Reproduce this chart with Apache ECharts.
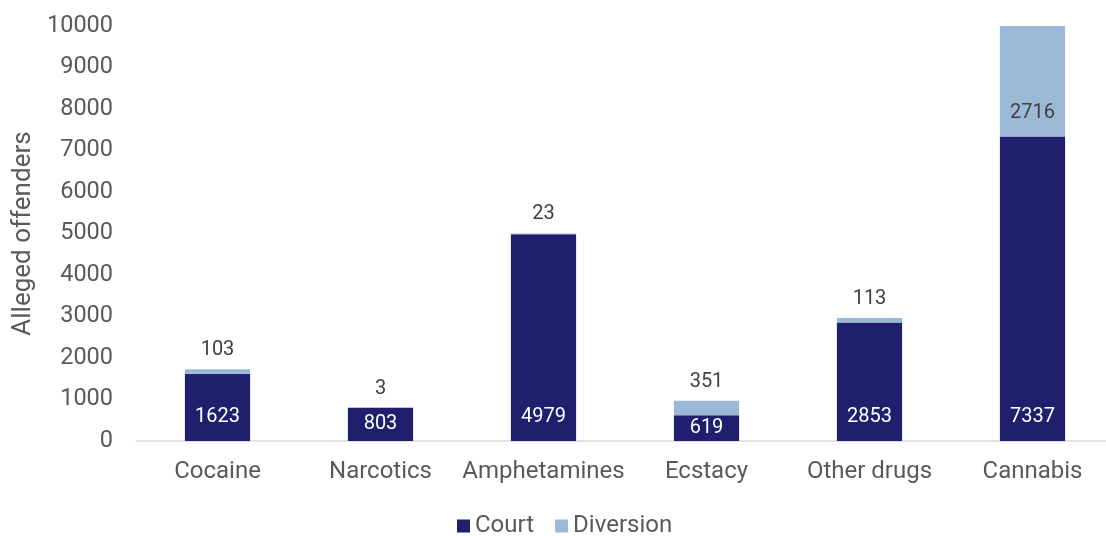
<!DOCTYPE html>
<html>
<head>
<meta charset="utf-8">
<script src="https://cdn.jsdelivr.net/npm/echarts@6/dist/echarts.min.js"></script>
<style>html,body{margin:0;padding:0;background:#fff;overflow:hidden}#c{width:1130px;height:536px}</style>
</head>
<body>
<div id="c"></div>
<script>
const categories = ['Cocaine', 'Narcotics', 'Amphetamines', 'Ecstacy', 'Other drugs', 'Cannabis'];
const courtValues = [1623, 803, 4979, 619, 2853, 7337];
const diversionValues = [103, 3, 23, 351, 113, 2716];
const yTicks = [0, 1000, 2000, 3000, 4000, 5000, 6000, 7000, 8000, 9000, 10000];

const FONT = 'Roboto';
const COURT = '#1f1f6e';
const DIVERSION = '#9bb8d7';

// Court labels sit at the bar base; very short bars get centred labels
const courtData = courtValues.map(v => v < 1000
  ? { value: v, label: { position: 'inside' } }
  : { value: v });
// Diversion labels sit above the segment unless the segment is tall enough
const diversionData = diversionValues.map(v => v > 1000
  ? { value: v, label: { position: 'insideBottom', distance: 14, color: '#404040' } }
  : { value: v });

const chart = echarts.init(document.getElementById('c'), null, { renderer: 'canvas' });
chart.setOption({
  animation: false,
  backgroundColor: '#ffffff',
  textStyle: { fontFamily: FONT },
  grid: { left: 136, top: 26, width: 978, height: 415 },
  legend: {
    data: ['Court', 'Diversion'],
    left: 452, top: 509,
    icon: 'rect', itemWidth: 13, itemHeight: 13, itemGap: 21,
    textStyle: { fontFamily: FONT, fontSize: 24, color: '#595959' }
  },
  xAxis: {
    type: 'category',
    data: categories,
    axisLine: { lineStyle: { color: '#d9d9d9', width: 1.5 } },
    axisTick: { show: false },
    axisLabel: { fontFamily: FONT, fontSize: 24, color: '#595959', margin: 19, interval: 0 }
  },
  yAxis: {
    type: 'value',
    min: yTicks[0], max: yTicks[yTicks.length - 1], interval: yTicks[1] - yTicks[0],
    name: 'Alleged offenders',
    nameLocation: 'middle', nameGap: 96,
    nameTextStyle: { fontFamily: FONT, fontSize: 26, color: '#595959' },
    splitLine: { show: false },
    axisLine: { show: false },
    axisTick: { show: false },
    axisLabel: { fontFamily: FONT, fontSize: 23.5, color: '#595959', margin: 23, formatter: v => String(v) }
  },
  series: [
    {
      name: 'Court', type: 'bar', stack: 'total', barWidth: '40%',
      itemStyle: { color: COURT },
      label: { show: true, position: 'insideBottom', distance: 14, color: '#ffffff', fontFamily: FONT, fontSize: 20 },
      data: courtData
    },
    {
      name: 'Diversion', type: 'bar', stack: 'total', barWidth: '40%',
      itemStyle: { color: DIVERSION },
      label: { show: true, position: 'top', distance: 9, color: '#404040', fontFamily: FONT, fontSize: 20 },
      data: diversionData
    }
  ]
});
</script>
</body>
</html>
